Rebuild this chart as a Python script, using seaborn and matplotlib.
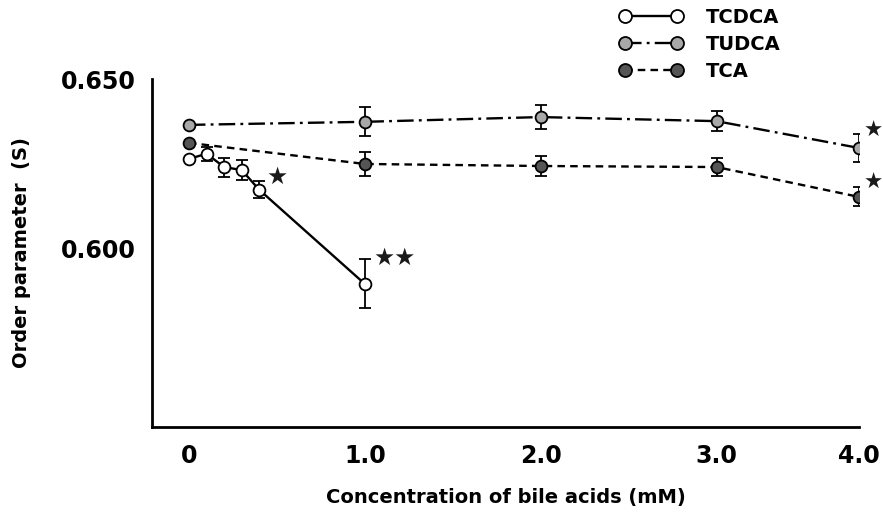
import numpy as np
import pandas as pd
import matplotlib
matplotlib.use("Agg")
import matplotlib.pyplot as plt
import seaborn as sns

# ---------------- data ----------------
series_names = ["TCDCA", "TUDCA", "TCA"]

tcdca_x = [0.0, 0.1, 0.2, 0.3, 0.4, 1.0]
tcdca_y = [0.6265, 0.6280, 0.6241, 0.6232, 0.6174, 0.5897]
tcdca_err = [0.0, 0.0020, 0.0028, 0.0030, 0.0025, 0.0072]

tudca_x = [0.0, 1.0, 2.0, 3.0, 4.0]
tudca_y = [0.6365, 0.6374, 0.6388, 0.6376, 0.6297]
tudca_err = [0.0, 0.0043, 0.0035, 0.0030, 0.0040]

tca_x = [0.0, 1.0, 2.0, 3.0, 4.0]
tca_y = [0.6312, 0.6250, 0.6244, 0.6241, 0.6153]
tca_err = [0.0, 0.0034, 0.0030, 0.0026, 0.0028]

# significance marks: (series, x, label)
sig_marks = [("TCDCA", 0.4, "★"), ("TCDCA", 1.0, "★★"),
             ("TUDCA", 4.0, "★"), ("TCA", 4.0, "★")]

x_ticks = [0, 1, 2, 3, 4]
x_ticklabels = ["0", "1.0", "2.0", "3.0", "4.0"]
y_ticks = [0.600, 0.650]
y_ticklabels = ["0.600", "0.650"]

# ---------------- style ----------------
sns.set_theme(style="white")
plt.rcParams["font.family"] = ["DejaVu Sans"]
plt.rcParams["font.weight"] = "bold"
plt.rcParams["text.color"] = "black"
plt.rcParams["axes.labelcolor"] = "black"

fig = plt.figure(figsize=(8.83, 5.18), dpi=100)
ax = fig.add_axes([152/883, 1-427/518, (859-152)/883, (427-79)/518])

# compressed last interval (as in the original print)
def fwd(x):
    x = np.asarray(x, dtype=float)
    return np.where(x <= 3, x, 3 + (x - 3) * 0.81)

def inv(x):
    x = np.asarray(x, dtype=float)
    return np.where(x <= 3, x, 3 + (x - 3) / 0.81)

ax.set_xscale("function", functions=(fwd, inv))

frames = {
    "TCDCA": pd.DataFrame({"x": tcdca_x, "y": tcdca_y, "err": tcdca_err}),
    "TUDCA": pd.DataFrame({"x": tudca_x, "y": tudca_y, "err": tudca_err}),
    "TCA": pd.DataFrame({"x": tca_x, "y": tca_y, "err": tca_err}),
}
styles = {
    "TCDCA": dict(ls="-", mfc="white"),
    "TUDCA": dict(ls=(0, (7, 2.2, 1.2, 2.2)), mfc="#a8a8a8"),
    "TCA": dict(ls=(0, (3.2, 2.2)), mfc="#555555"),
}

for name in series_names:
    df = frames[name]
    st = styles[name]
    ax.errorbar(df["x"], df["y"], yerr=df["err"], fmt="none", ecolor="black",
                elinewidth=1.3, capsize=4.5, capthick=1.3, zorder=2)
    sns.lineplot(data=df, x="x", y="y", ax=ax, color="black", linewidth=1.7,
                 linestyle=st["ls"], marker="o", markersize=8.5,
                 markerfacecolor=st["mfc"], markeredgecolor="black",
                 markeredgewidth=1.3, errorbar=None, label=name, zorder=3,
                 legend=False)

sig_offsets = {("TCDCA", 0.4): (13, 9.5), ("TCDCA", 1.0): (6, 19),
               ("TUDCA", 4.0): (10, 12), ("TCA", 4.0): (10, 10)}
sig_sizes = {("TCDCA", 0.4): 17, ("TCDCA", 1.0): 17,
             ("TUDCA", 4.0): 15.5, ("TCA", 4.0): 15.5}
for name, xv, lab in sig_marks:
    df = frames[name]
    yv = float(df.loc[np.isclose(df["x"], xv), "y"].iloc[0])
    ax.annotate(lab, xy=(xv, yv), xytext=sig_offsets[(name, xv)],
                textcoords="offset points",
                ha="left" if len(lab) > 1 else "center", va="center",
                fontsize=sig_sizes[(name, xv)], color="#1a1a1a",
                annotation_clip=False)

ax.set_xlim(-0.21, 4.0)
ax.set_ylim(0.5476, 0.650)
ax.set_xticks(x_ticks)
ax.set_xticklabels(x_ticklabels)
ax.set_yticks(y_ticks)
ax.set_yticklabels(y_ticklabels)
ax.xaxis.set_minor_locator(matplotlib.ticker.NullLocator())
ax.tick_params(axis="both", direction="in", length=5, width=1.4,
               labelsize=17, pad=12, colors="black")
for lbl in ax.get_xticklabels() + ax.get_yticklabels():
    lbl.set_fontweight("bold")

for s in ["top", "right"]:
    ax.spines[s].set_visible(False)
for s in ["left", "bottom"]:
    ax.spines[s].set_linewidth(2.0)
    ax.spines[s].set_color("black")

ax.set_xlabel("Concentration of bile acids (mM)", fontsize=14,
              fontweight="bold", labelpad=15)
ax.set_ylabel("Order parameter  (S)", fontsize=14, fontweight="bold",
              labelpad=21)

handles, labels = ax.get_legend_handles_labels()
leg = fig.legend(handles, labels, loc="upper left",
                 bbox_to_anchor=(609/883, 1+2/518), frameon=False,
                 borderpad=0.0, numpoints=2, handlelength=3.28,
                 handletextpad=1.18, labelspacing=0.41, markerscale=1.1,
                 prop={"size": 14, "weight": "bold"})

fig.savefig("out.png", dpi=100, facecolor="white")
